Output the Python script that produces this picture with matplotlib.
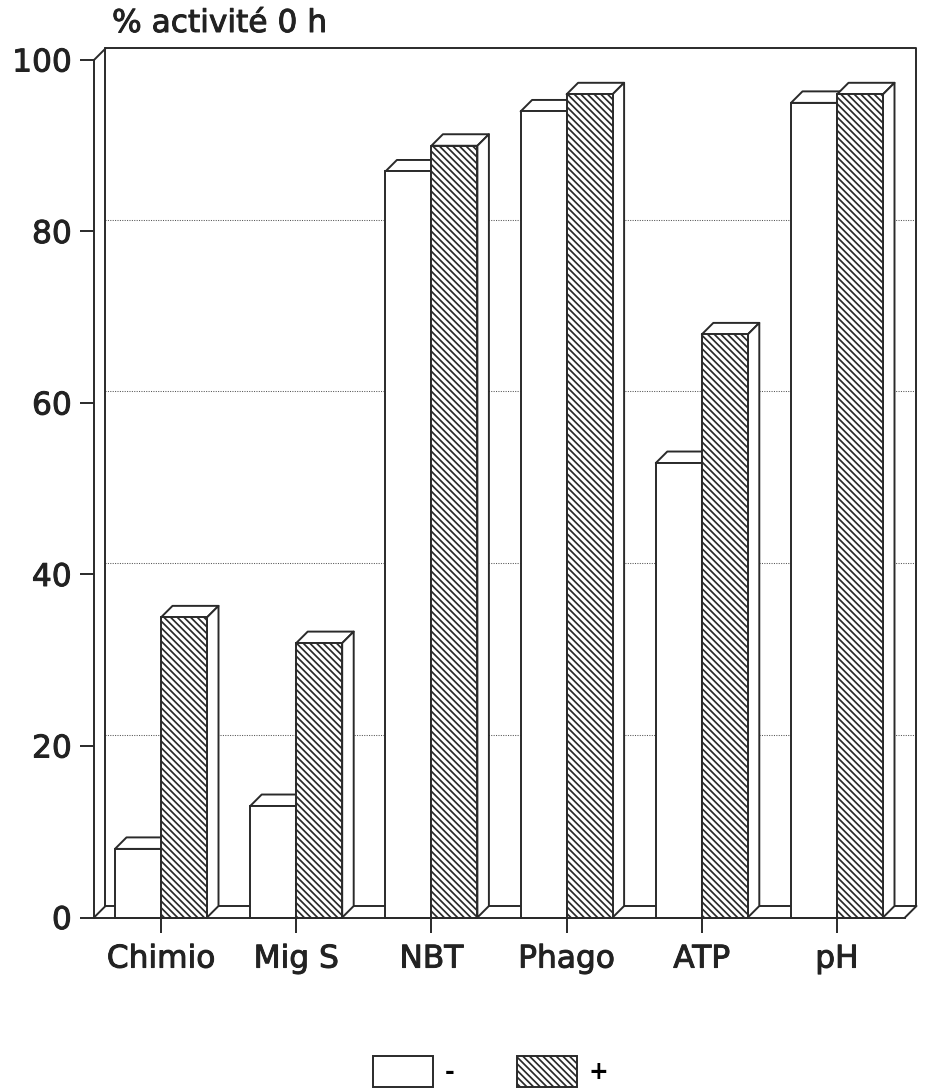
import matplotlib
matplotlib.use("Agg")
import matplotlib.pyplot as plt
import matplotlib.patheffects as pe
from matplotlib.patches import Polygon

categories = ["Chimio", "Mig S", "NBT", "Phago", "ATP", "pH"]
minus_values = [8, 13, 87, 94, 53, 95]
plus_values = [35, 32, 90, 96, 68, 96]
y_ticks = [0, 20, 40, 60, 80, 100]
grid_levels = [20, 40, 60, 80]
series_labels = ["-", "+"]
y_title = "% activité 0 h"

W, H = 928, 1089
INK = "#2a2a2a"
LW = 1.4
plt.rcParams["hatch.linewidth"] = 1.25
plt.rcParams["hatch.color"] = INK
plt.rcParams["font.family"] = "DejaVu Sans"

fig = plt.figure(figsize=(W / 100, H / 100), dpi=100)
L, R, T, B = 94, 905, 60, 917.5
ax = fig.add_axes([L / W, 1 - B / H, (R - L) / W, (B - T) / H])

step_px = 135.2
c0_px = 161
ax.set_xlim((L - c0_px) / step_px, (R - c0_px) / step_px)
ax.set_ylim(0, 100)
dx = 11.5 / step_px
dy = 100 * 11.5 / (B - T)
bw = 46 / step_px
xmin, xmax = ax.get_xlim()

line = dict(color=INK, lw=LW, clip_on=False, solid_capstyle="round")
# back wall and floor
ax.plot([xmin + dx, xmax + dx, xmax + dx], [100 + dy, 100 + dy, dy], zorder=2, **line)
ax.plot([xmin + dx, xmin + dx], [dy, 100 + dy], zorder=2, **line)
ax.plot([xmin + dx, xmax + dx], [dy, dy], zorder=2, **line)
ax.plot([xmin, xmin + dx], [100, 100 + dy], zorder=2, **line)
ax.plot([xmin, xmin + dx], [0, dy], zorder=2, **line)
ax.plot([xmax, xmax + dx], [0, dy], zorder=2, **line)
# dotted grid on the back wall
for g in grid_levels:
    ax.plot([xmin + dx, xmax + dx], [g + dy, g + dy], color="#555555", lw=0.75,
            ls=(0, (1, 1.3)), zorder=1, clip_on=False)

xs = list(range(len(categories)))
face_kw = dict(width=bw, edgecolor=INK, linewidth=LW, zorder=5, clip_on=False)
bars_minus = ax.bar([x - bw / 2 for x in xs], minus_values, color="white",
                    label=series_labels[0], **face_kw)
bars_plus = ax.bar([x + bw / 2 for x in xs], plus_values, color="white", hatch="\\" * 5,
                   label=series_labels[1], **face_kw)

poly_kw = dict(facecolor="white", edgecolor=INK, linewidth=LW, joinstyle="round", clip_on=False)
for x, m, p in zip(xs, minus_values, plus_values):
    for x0, v in ((x - bw, m), (x, p)):
        x1 = x0 + bw
        ax.add_patch(Polygon([(x0, v), (x0 + dx, v + dy), (x1 + dx, v + dy), (x1, v)],
                             zorder=4, **poly_kw))
        ax.add_patch(Polygon([(x1, 0), (x1 + dx, dy), (x1 + dx, v + dy), (x1, v)],
                             zorder=4, **poly_kw))
# the hatched face hides the side of the white bar
for b in bars_plus:
    b.set_zorder(6)

for s in ("top", "right"):
    ax.spines[s].set_visible(False)
for s in ("left", "bottom"):
    ax.spines[s].set_color(INK)
    ax.spines[s].set_linewidth(LW)
    ax.spines[s].set_zorder(7)

ax.set_xticks(xs, categories)
ax.set_yticks(y_ticks)
ax.tick_params(axis="x", length=10.5, width=LW, color=INK, pad=9, labelsize=22.5, labelcolor="#222222")
ax.tick_params(axis="y", length=10, width=LW, color=INK, pad=6, labelsize=22.5, labelcolor="#222222")

heavier = [pe.withStroke(linewidth=0.7, foreground="#222222")]
for t in ax.get_xticklabels() + ax.get_yticklabels():
    t.set_path_effects(heavier)

title = fig.text(112 / W, 1 - 32 / H, y_title, fontsize=22.5, color="#222222", ha="left", va="baseline")
title.set_path_effects(heavier)

leg = fig.legend(
    handles=[bars_minus, bars_plus], labels=series_labels, ncol=2, frameon=False,
    loc="center left", bbox_to_anchor=(373 / W, 1 - 1071.5 / H), borderaxespad=0, borderpad=0,
    prop={"size": 17, "weight": "bold"}, handlelength=60 / 23.6, handleheight=1.645,
    handletextpad=12 / 23.6, columnspacing=62 / 23.6,
)

fig.savefig("out.png", dpi=100)
